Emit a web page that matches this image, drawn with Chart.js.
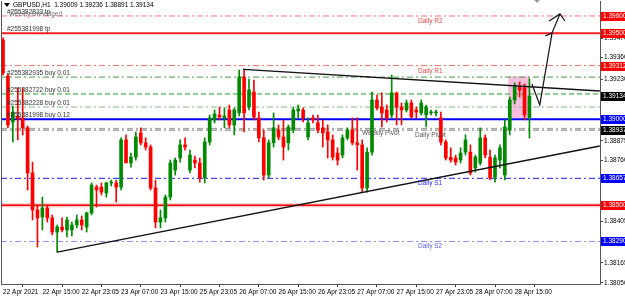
<!DOCTYPE html>
<html>
<head>
<meta charset="utf-8">
<script src="https://cdn.jsdelivr.net/npm/chart.js@4.4.1/dist/chart.umd.min.js"></script>
<style>
  html, body { margin: 0; padding: 0; background: #fff; }
  #wrap { width: 625px; height: 297px; }
</style>
</head>
<body>
<div id="wrap"><canvas id="chart" width="625" height="297"></canvas></div>
<script>
// GBPUSD H1 - bars (bar index 0 = 22 Apr 07:00)
const labelBars = [0, 8, 16, 24, 32, 40, 48, 56, 64, 72, 80, 88, 96, 104];
const timeLabels = ["22 Apr 2021", "22 Apr 15:00", "22 Apr 23:05", "23 Apr 07:00", "23 Apr 15:00",
    "25 Apr 23:05", "26 Apr 07:00", "26 Apr 15:00", "26 Apr 23:05", "27 Apr 07:00",
    "27 Apr 15:00", "27 Apr 23:05", "28 Apr 07:00", "28 Apr 15:00"];

const opens = [1.39461, 1.39251, 1.38984, 1.39019, 1.39008, 1.38950, 1.38688, 1.38473, 1.38432, 1.38485,
    1.38427, 1.38345, 1.38374, 1.38357, 1.38357, 1.38386, 1.38415, 1.38374, 1.38456, 1.38606,
    1.38606, 1.38572, 1.38630, 1.38630, 1.38606, 1.38880, 1.38746, 1.38780, 1.38921, 1.38863,
    1.38839, 1.38601, 1.38403, 1.38427, 1.38548, 1.38705, 1.38775, 1.38851, 1.38705, 1.38763,
    1.38746, 1.38659, 1.38868, 1.38996, 1.39025, 1.39008, 1.39054, 1.38967, 1.39037, 1.39245,
    1.39071, 1.39158, 1.39008, 1.38892, 1.38676, 1.38863, 1.38938, 1.38897, 1.38863, 1.38938,
    1.39048, 1.39054, 1.38897, 1.39008, 1.38979, 1.38950, 1.38926, 1.38880, 1.38804, 1.38792,
    1.38892, 1.38938, 1.38863, 1.38851, 1.38601, 1.38809, 1.39112, 1.39071, 1.39054, 1.39025,
    1.39153, 1.39071, 1.39054, 1.39095, 1.39054, 1.39037, 1.39025, 1.39037, 1.39037, 1.39008,
    1.38868, 1.38780, 1.38775, 1.38763, 1.38809, 1.38809, 1.38717, 1.38746, 1.38892, 1.38780,
    1.38664, 1.38763, 1.38676, 1.38938, 1.39112, 1.39187, 1.39182, 1.39009];
const highs = [1.39473, 1.39263, 1.39077, 1.39182, 1.39182, 1.38961, 1.38751, 1.38502, 1.38548, 1.38502,
    1.38444, 1.38386, 1.38427, 1.38432, 1.38403, 1.38444, 1.38438, 1.38461, 1.38630, 1.38618,
    1.38630, 1.38635, 1.38647, 1.38647, 1.38892, 1.38909, 1.38804, 1.38926, 1.38950, 1.38892,
    1.38851, 1.38647, 1.38473, 1.38560, 1.38763, 1.38775, 1.38880, 1.38892, 1.38821, 1.38786,
    1.38775, 1.38892, 1.39025, 1.39054, 1.39071, 1.39066, 1.39083, 1.39066, 1.39286, 1.39292,
    1.39234, 1.39228, 1.39042, 1.38938, 1.38880, 1.39037, 1.38967, 1.38996, 1.38967, 1.39071,
    1.39083, 1.39066, 1.39008, 1.39025, 1.39025, 1.38996, 1.38967, 1.38909, 1.38834, 1.38909,
    1.38950, 1.39008, 1.39008, 1.38880, 1.38834, 1.39158, 1.39141, 1.39153, 1.39083, 1.39257,
    1.39158, 1.39095, 1.39112, 1.39112, 1.39071, 1.39112, 1.39083, 1.39054, 1.39054, 1.39042,
    1.38880, 1.38834, 1.38792, 1.38834, 1.38909, 1.38851, 1.38792, 1.38950, 1.38909, 1.38821,
    1.38792, 1.38851, 1.38996, 1.39129, 1.39211, 1.39216, 1.39205, 1.39236];
const lows = [1.39257, 1.38950, 1.38868, 1.38880, 1.38909, 1.38589, 1.38415, 1.38258, 1.38357, 1.38403,
    1.38328, 1.38228, 1.38345, 1.38316, 1.38322, 1.38369, 1.38357, 1.38345, 1.38444, 1.38490,
    1.38560, 1.38548, 1.38612, 1.38519, 1.38589, 1.38792, 1.38722, 1.38763, 1.38851, 1.38821,
    1.38589, 1.38369, 1.38369, 1.38403, 1.38531, 1.38676, 1.38751, 1.38821, 1.38688, 1.38717,
    1.38635, 1.38630, 1.38851, 1.38979, 1.38996, 1.38950, 1.38950, 1.38909, 1.39019, 1.38926,
    1.39054, 1.38996, 1.38868, 1.38647, 1.38659, 1.38839, 1.38880, 1.38763, 1.38821, 1.38921,
    1.39008, 1.38984, 1.38880, 1.38979, 1.38921, 1.38839, 1.38775, 1.38763, 1.38734, 1.38775,
    1.38880, 1.38851, 1.38705, 1.38577, 1.38577, 1.38792, 1.39054, 1.38955, 1.38984, 1.39008,
    1.38967, 1.38967, 1.39042, 1.39008, 1.39008, 1.39025, 1.38955, 1.39025, 1.39019, 1.38851,
    1.38763, 1.38751, 1.38734, 1.38746, 1.38792, 1.38676, 1.38693, 1.38734, 1.38775, 1.38647,
    1.38635, 1.38717, 1.38647, 1.38909, 1.39089, 1.39129, 1.38996, 1.38891];
const closes = [1.39269, 1.38967, 1.39042, 1.39002, 1.38950, 1.38688, 1.38473, 1.38427, 1.38485, 1.38427,
    1.38345, 1.38374, 1.38357, 1.38415, 1.38386, 1.38415, 1.38386, 1.38456, 1.38618, 1.38589,
    1.38577, 1.38630, 1.38635, 1.38606, 1.38880, 1.38746, 1.38780, 1.38897, 1.38863, 1.38839,
    1.38601, 1.38403, 1.38427, 1.38548, 1.38746, 1.38763, 1.38851, 1.38839, 1.38792, 1.38746,
    1.38659, 1.38868, 1.39008, 1.39031, 1.39013, 1.39019, 1.38967, 1.39054, 1.39245, 1.39037,
    1.39170, 1.39013, 1.38892, 1.38676, 1.38863, 1.38950, 1.38897, 1.38839, 1.38955, 1.39054,
    1.39060, 1.39008, 1.38979, 1.38996, 1.38938, 1.38921, 1.38880, 1.38780, 1.38763, 1.38892,
    1.38938, 1.38863, 1.38851, 1.38601, 1.38809, 1.39112, 1.39066, 1.39037, 1.39008, 1.39153,
    1.39071, 1.39054, 1.39095, 1.39013, 1.39042, 1.39095, 1.39071, 1.39042, 1.39042, 1.38868,
    1.38775, 1.38763, 1.38751, 1.38804, 1.38880, 1.38688, 1.38780, 1.38892, 1.38792, 1.38659,
    1.38775, 1.38834, 1.38955, 1.39112, 1.39187, 1.39170, 1.39025, 1.39134];

// right price scale
const priceTicks = [1.39470, 1.39360, 1.39230, 1.38875, 1.38760, 1.38405, 1.38165, 1.38050];
const markPrices = [1.39600, 1.39500, 1.39312, 1.39134, 1.39000, 1.38937, 1.38657, 1.38500, 1.38290];
const markColors = ["#ff0000", "#ff0000", "#ff0000", "#000000", "#0000ff", "#000000", "#0000ff", "#ff0000", "#0000ff"];

// horizontal lines (pivots, orders)
const levelPrices = [1.39600, 1.39500, 1.39312, 1.39245, 1.39147, 1.39071, 1.39000, 1.38947, 1.38937, 1.38657, 1.38500, 1.38290];
const levelNames = ["Daily R2", "", "Daily R1", "", "", "", "", "Weekly Pivot", "Daily Pivot", "Daily S1", "", "Daily S2"];
const levelStyles = [
    { color: "#ff7070", width: 1, dash: [6, 3, 2, 3] },
    { color: "#ff2020", width: 2, dash: [] },
    { color: "#ff7070", width: 1, dash: [6, 3, 2, 3] },
    { color: "#3ea03e", width: 1, dash: [6, 3, 2, 3] },
    { color: "#22a022", width: 1, dash: [5, 3] },
    { color: "#80bb80", width: 1, dash: [6, 3, 2, 3] },
    { color: "#0000ff", width: 2, dash: [] },
    { color: "#9a9a9a", width: 1, dash: [6, 3, 2, 3] },
    { color: "#707070", width: 1, dash: [6, 3, 2, 3] },
    { color: "#1a1aff", width: 1, dash: [6, 3, 2, 3] },
    { color: "#ff0000", width: 1.5, dash: [] },
    { color: "#8c8cff", width: 1, dash: [6, 3, 2, 3] }
];
const nameColors = ["#e04848", "", "#e04848", "", "", "", "", "#555555", "#555555", "#2a2aff", "", "#6060ee"];

const orderTexts = ["#255382823 tp", "#255381998 tp", "#255382935 buy 0.01", "#255382722 buy 0.01", "#255382228 buy 0.01", "#255381998 buy 0.12"];
const orderPrices = [1.39600, 1.39500, 1.39245, 1.39147, 1.39071, 1.39000];

// drawings
const upperTrendBars = [48.8, 121.3];
const upperTrendPrices = [1.39290, 1.39164];
const lowerTrendBars = [11, 121.3];
const lowerTrendPrices = [1.38228, 1.38845];
const arrowBars = [107.5, 109.1, 111.6, 113.2];
const arrowPrices = [1.39205, 1.39083, 1.39502, 1.39612];
const arrowHeadBars = [111.0, 113.2, 114.2];
const arrowHeadPrices = [1.39571, 1.39612, 1.39571];
const hookBars = [110.2, 111.6];
const hookPrices = [1.39484, 1.39502];
const boxBars = [102.7, 107.0];
const boxPrices = [1.39250, 1.39008];

const X_MIN = -0.41, X_MAX = 121.34;
const Y_MIN = 1.38043, Y_MAX = 1.39687;
const FONT = '6.5px "Liberation Sans", Arial, sans-serif';
const BULL = "#008a00", BEAR = "#ff0000";

const bars = opens.map((o, i) => i);
const candleColors = bars.map(i => closes[i] >= opens[i] ? BULL : BEAR);

const lineSet = (xs, ys, color, width, dash, order) => ({
    type: "line",
    data: xs.map((v, i) => ({ x: v, y: ys[i] })),
    borderColor: color,
    borderWidth: width,
    borderDash: dash,
    pointRadius: 0,
    fill: false,
    tension: 0,
    order: order
});

const datasets = [];
levelPrices.forEach((p, i) => {
    const s = levelStyles[i];
    if (p === 1.38500) {
        datasets.push(lineSet([X_MIN, X_MAX], [p, p], "rgba(255,150,150,0.55)", 4, [], 21));
    }
    datasets.push(lineSet([X_MIN, X_MAX], [p, p], s.color, s.width, s.dash, 20));
});
datasets.push({
    type: "bar",
    data: bars.map(i => ({ x: i, y: [lows[i], highs[i]] })),
    backgroundColor: candleColors,
    barThickness: 1,
    grouped: false,
    order: 6
});
datasets.push({
    type: "bar",
    data: bars.map(i => ({ x: i, y: [opens[i], closes[i]] })),
    backgroundColor: candleColors,
    barThickness: 3,
    minBarLength: 1,
    grouped: false,
    order: 5
});
datasets.push(lineSet(upperTrendBars, upperTrendPrices, "#111111", 1.4, [], 1));
datasets.push(lineSet(lowerTrendBars, lowerTrendPrices, "#111111", 1.4, [], 1));
datasets.push(lineSet(arrowBars, arrowPrices, "#111111", 1.2, [], 1));
datasets.push(lineSet(arrowHeadBars, arrowHeadPrices, "#111111", 1.2, [], 1));
datasets.push(lineSet(hookBars, hookPrices, "#111111", 1.2, [], 1));

const overlay = {
    id: "overlay",
    beforeDatasetsDraw(chart) {
        const { ctx, scales: { x, y } } = chart;
        const x0 = x.getPixelForValue(boxBars[0]), x1 = x.getPixelForValue(boxBars[1]);
        const y0 = y.getPixelForValue(boxPrices[0]), y1 = y.getPixelForValue(boxPrices[1]);
        ctx.save();
        ctx.fillStyle = "rgba(244,172,214,0.8)";
        ctx.fillRect(x0, y0, x1 - x0, y1 - y0);
        ctx.restore();
    },
    afterDraw(chart) {
        const { ctx, chartArea: a, scales: { x, y } } = chart;
        ctx.save();
        ctx.strokeStyle = "#555";
        ctx.lineWidth = 1;
        ctx.beginPath();
        ctx.moveTo(a.left + 0.5, a.top);
        ctx.lineTo(a.left + 0.5, a.bottom);
        ctx.stroke();

        ctx.font = FONT;
        // order labels, left
        ctx.textBaseline = "bottom";
        ctx.fillStyle = "#333";
        orderTexts.forEach((t, i) => {
            ctx.fillText(t, 7, Math.round(y.getPixelForValue(orderPrices[i])) - 1);
        });
        ctx.fillStyle = "#777";
        ctx.fillText("Weekly Unhedged", 9, Math.round(y.getPixelForValue(orderPrices[0])) + 1);

        // level names
        ctx.textBaseline = "top";
        levelNames.forEach((n, i) => {
            if (!n) return;
            const nx = n === "Weekly Pivot" ? 362 : n === "Daily Pivot" ? 415 : 418;
            ctx.fillStyle = nameColors[i];
            ctx.fillText(n, nx, Math.round(y.getPixelForValue(levelPrices[i])) + 2);
        });

        // boxed marks on the price scale
        ctx.textBaseline = "middle";
        markPrices.forEach((p, i) => {
            const py = Math.round(y.getPixelForValue(p));
            ctx.fillStyle = markColors[i];
            ctx.fillRect(a.right + 1, py - 4, 30, 9);
            ctx.fillStyle = "#fff";
            ctx.fillText(p.toFixed(5), a.right + 3, py + 0.5);
        });

        // title
        const last = opens.length - 1;
        ctx.fillStyle = "#000";
        ctx.beginPath();
        ctx.moveTo(4, 3); ctx.lineTo(10, 3); ctx.lineTo(7, 7); ctx.closePath();
        ctx.fill();
        ctx.textBaseline = "middle";
        ctx.fillText("GBPUSD,H1  " + [opens[last], highs[last], lows[last], closes[last]].map(v => v.toFixed(5)).join(" "), 13, 5);

        // chart shift marker
        ctx.fillStyle = "#999";
        ctx.beginPath();
        ctx.moveTo(534, 0); ctx.lineTo(540, 0); ctx.lineTo(537, 3); ctx.closePath();
        ctx.fill();
        ctx.restore();
    }
};

new Chart(document.getElementById("chart"), {
    type: "bar",
    data: { datasets: datasets },
    options: {
        responsive: false,
        animation: false,
        devicePixelRatio: 1,
        layout: { padding: { left: 1, top: 1, right: 0, bottom: 0 } },
        plugins: { legend: { display: false }, tooltip: { enabled: false } },
        scales: {
            x: {
                type: "linear",
                min: X_MIN,
                max: X_MAX,
                offset: false,
                afterBuildTicks: scale => { scale.ticks = labelBars.map(v => ({ value: v })); },
                afterFit: scale => { scale.height = 13; scale.paddingLeft = 0; scale.paddingRight = 0; },
                ticks: {
                    autoSkip: false,
                    maxRotation: 0,
                    minRotation: 0,
                    align: "start",
                    padding: 1,
                    color: "#000",
                    font: { family: "Liberation Sans", size: 6.5 },
                    callback: (v, i) => timeLabels[i]
                },
                grid: { drawOnChartArea: false, drawTicks: true, tickLength: 3, color: "#444" },
                border: { display: true, color: "#555" }
            },
            y: {
                type: "linear",
                position: "right",
                min: Y_MIN,
                max: Y_MAX,
                afterBuildTicks: scale => { scale.ticks = priceTicks.map(v => ({ value: v })); },
                afterFit: scale => { scale.width = 25; scale.paddingTop = 0; scale.paddingBottom = 0; },
                ticks: {
                    padding: 1,
                    color: "#000",
                    font: { family: "Liberation Sans", size: 6.5 },
                    callback: v => v.toFixed(5)
                },
                grid: { drawOnChartArea: false, drawTicks: true, tickLength: 3, color: "#444" },
                border: { display: true, color: "#555" }
            }
        }
    },
    plugins: [overlay]
});
</script>
</body>
</html>
